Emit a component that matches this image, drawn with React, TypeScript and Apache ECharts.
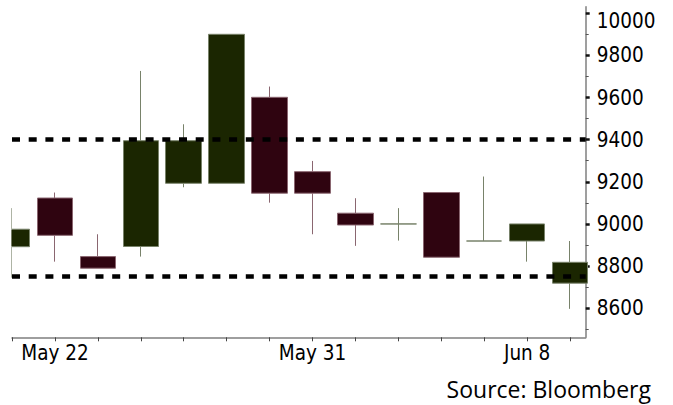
import React, { useEffect, useRef } from "react";
import * as echarts from "echarts";

// Candles (daily), one per trading day, index = position on the x axis
const opens = [8892, 9123, 8845, 8893, 9193, 9193, 9601, 9248, 9051, 9000, 9149, 8919, 8919, 8719];
const closes = [8975, 8946, 8790, 9395, 9395, 9900, 9146, 9146, 8995, 9000, 8842, 8919, 9000, 8818];
const lows = [8745, 8821, 8790, 8845, 9174, 9193, 9101, 8951, 8896, 8921, 8842, 8919, 8821, 8597];
const highs = [9075, 9149, 8951, 9726, 9473, 9900, 9652, 9299, 9122, 9075, 9149, 9225, 9000, 8919];

// x-axis date labels (index of the candle they sit under)
const labelIndex = [1, 7, 12];
const labelText = ["May 22", "May 31", "Jun 8"];

// y-axis ticks
const yMajor = [8600, 8800, 9000, 9200, 9400, 9600, 9800, 10000];
const yMinor = [8500, 8700, 8900, 9100, 9300, 9500, 9700, 9900];

// horizontal support / resistance levels
const levels = [9400, 8750];

const FONT = "'DejaVu Sans Condensed', 'Liberation Sans', sans-serif";

export default function App() {
  const ref = useRef<HTMLDivElement>(null);
  useEffect(() => {
    if (!ref.current) return;
    const chart = echarts.init(ref.current, undefined, { renderer: "svg" });
    const data = opens.map((o, i) => [i, o, closes[i], lows[i], highs[i]]);
    const xTicks = opens.map((_, i) => i);
    chart.setOption({
      animation: false,
      backgroundColor: "#ffffff",
      grid: { left: 12, right: 87.3, top: 6.7, bottom: 67.7 },
      xAxis: {
        type: "value",
        min: 0,
        max: 13.364,
        splitLine: { show: false },
        axisLine: { show: true, onZero: false, lineStyle: { color: "#7f7f7f", width: 1.5 } },
        axisTick: { show: true, customValues: xTicks, length: 4, lineStyle: { color: "#444", width: 1 } },
        axisLabel: {
          customValues: labelIndex,
          formatter: (v: number) => {
            const k = labelIndex.indexOf(Math.round(v));
            return k >= 0 ? labelText[k] : "";
          },
          fontFamily: FONT,
          fontSize: 20.5,
          color: "#000",
          margin: 5,
        },
      },
      yAxis: [
        {
          type: "value",
          position: "right",
          min: 8462,
          max: 10031,
          splitLine: { show: false },
          axisLine: { show: true, onZero: false, lineStyle: { color: "#7f7f7f", width: 1.5 } },
          axisTick: { show: true, customValues: yMajor, length: 4, lineStyle: { color: "#111", width: 2.5 } },
          axisLabel: {
            customValues: yMajor,
            fontFamily: FONT,
            fontSize: 20.5,
            color: "#000",
            margin: 11,
            formatter: (v: number) => (v === 10000 ? "{top|" + v + "}" : String(v)),
            rich: { top: { fontFamily: FONT, fontSize: 20.5, color: "#000", padding: [16, 0, 0, 0] } },
          },
        },
        {
          type: "value",
          position: "right",
          min: 8462,
          max: 10031,
          splitLine: { show: false },
          axisLine: { show: false, onZero: false },
          axisTick: { show: true, customValues: yMinor, length: 3, lineStyle: { color: "#555", width: 1 } },
          axisLabel: { show: false },
        },
      ],
      series: [
        {
          type: "candlestick",
          data,
          barWidth: 36,
          clip: true,
          itemStyle: {
            color: "#1b2601",
            color0: "#2f0410",
            borderColor: "#78826a",
            borderColor0: "#8a6670",
            borderWidth: 1,
          },
          markLine: {
            silent: true,
            symbol: ["none", "none"],
            label: { show: false },
            lineStyle: { color: "#000", width: 4.5, type: [8, 8.7] },
            data: levels.map((v) => ({ yAxis: v })),
          },
        },
      ],
      graphic: [
        {
          type: "rect",
          left: 0,
          top: 0,
          z: 100,
          shape: { width: 11.4, height: 337 },
          style: { fill: "#ffffff" },
        },
        {
          type: "text",
          right: 22,
          top: 377,
          style: {
            text: "Source: Bloomberg",
            fontFamily: "'Open Sans', 'Noto Sans', sans-serif",
            fontSize: 23,
            fill: "#000",
          },
        },
      ],
    });
    return () => chart.dispose();
  }, []);
  return (
    <div
      ref={ref}
      style={{ position: "fixed", left: 0, top: 0, width: 673, height: 405, background: "#fff" }}
    />
  );
}
